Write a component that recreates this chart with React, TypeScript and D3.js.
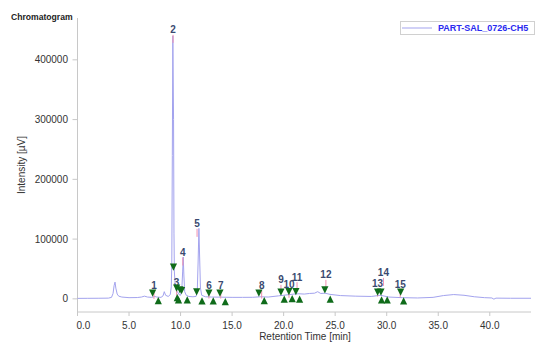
import React from "react";
import * as d3 from "d3";

// Chromatogram trace: [retention time (min), intensity (µV)]
const traceTime = [0, 1, 2, 3, 3.3, 3.45, 3.55, 3.64, 3.72, 3.85, 4.0, 4.3, 5.0, 5.8, 6.2, 6.5, 6.8, 7.2, 7.5, 7.7, 8.1, 8.3, 8.42, 8.55, 8.8, 9.0, 9.1, 9.15, 9.2, 9.25, 9.32, 9.36, 9.4, 9.48, 9.58, 9.7, 9.85, 10.0, 10.12, 10.2, 10.26, 10.32, 10.4, 10.55, 10.8, 11.2, 11.5, 11.62, 11.7, 11.78, 11.85, 11.93, 12.05, 12.4, 13, 14, 15, 16, 17, 17.8, 18.5, 19.5, 20.5, 21.0, 21.5, 22.0, 22.5, 23.0, 23.3, 23.6, 24.0, 24.5, 25.5, 27, 28.5, 29.4, 30.2, 31.5, 33, 34.5, 35.5, 36.5, 37.5, 38.5, 39.5, 40.2, 40.4, 40.6, 42, 44];
const traceValue = [800, 900, 1000, 1200, 2500, 9000, 22000, 28000, 18000, 8000, 4500, 3000, 2000, 2200, 3000, 4500, 3000, 2500, 4000, 3000, 2500, 5000, 12000, 6000, 4000, 7000, 20000, 60000, 240000, 440000, 300000, 110000, 45000, 22000, 14000, 12000, 7000, 6000, 15000, 45000, 70000, 40000, 12000, 6000, 4000, 3500, 4000, 12000, 60000, 118000, 70000, 18000, 6000, 3500, 3000, 2800, 2500, 2500, 2600, 3500, 3000, 5000, 7000, 8000, 8500, 8000, 9000, 9500, 12000, 9000, 9500, 7500, 5500, 4500, 4000, 6000, 3000, 2000, 1500, 2500, 5500, 7200, 6000, 3500, 2000, 1500, -500, 1200, 1000, 1000];

// Peak labels: name, label time (min), label height (µV)
const peakNames = ["1", "2", "3", "4", "5", "6", "7", "8", "9", "10", "11", "12", "13", "14", "15"];
const peakTimes = [7.42, 9.27, 9.62, 10.22, 11.6, 12.75, 13.9, 17.87, 19.74, 20.52, 21.3, 24.1, 29.12, 29.68, 31.31];
const peakLabelValues = [21760, 450200, 27280, 77490, 125500, 22260, 22260, 22260, 31800, 23430, 36320, 40170, 25500, 43500, 23930];

// Peak start markers (▼) and end markers (▲): time (min), intensity (µV)
const startTimes = [7.29, 9.31, 9.62, 9.94, 10.1, 11.56, 12.75, 13.82, 17.6, 19.74, 20.51, 21.19, 24.0, 29.12, 29.44, 31.35];
const startValues = [9540, 53050, 17900, 15060, 13890, 11720, 9540, 9540, 9540, 11210, 12220, 12220, 15060, 11210, 11210, 11210];
const endTimes = [7.84, 9.68, 9.8, 10.65, 12.08, 13.17, 14.34, 18.12, 20.06, 20.83, 21.55, 24.52, 29.5, 30.05, 31.64];
const endValues = [-2850, 2180, -1670, -1670, -3350, -3350, -4520, -2850, -500, 500, -500, -500, -1670, -1670, -3350];

const xTicks = [0, 5, 10, 15, 20, 25, 30, 35, 40];
const yTicks = [0, 100000, 200000, 300000, 400000];

const seriesName = "PART-SAL_0726-CH5";

export default function App() {
  const W = 550, H = 359;
  const x = d3.scaleLinear().domain([0, 44]).range([77.5, 531]);
  const y = d3.scaleLinear().domain([-22000, 470000]).range([312, 18]);
  const pts: [number, number][] = traceTime.map((t, i) => [t, traceValue[i]]);
  const line = d3.line<[number, number]>().x(d => x(d[0])).y(d => y(d[1]));
  const traceColor = "#a3a3ee";
  const axisColor = "#c8c8c8";
  const font = "'Liberation Sans', Arial, sans-serif";
  const tri = 3.6;
  const green = "#0f6b1a";

  return (
    <svg width={W} height={H} style={{ position: "absolute", left: 0, top: 0, background: "#fff" }} fontFamily={font}>
      <rect x={0} y={0} width={W} height={H} fill="#fff" />
      <text x={11} y={20} fontSize={8.6} fontWeight="bold" fill="#222">Chromatogram</text>

      {/* axes */}
      <line x1={77.5} x2={77.5} y1={18} y2={312} stroke={axisColor} />
      <line x1={77.5} x2={531} y1={312} y2={312} stroke={axisColor} />
      {yTicks.map(t => (
        <g key={"y" + t}>
          <line x1={72.5} x2={77.5} y1={y(t)} y2={y(t)} stroke={axisColor} />
          <text x={68} y={y(t)} dy="0.35em" textAnchor="end" fontSize={10} fill="#333">{d3.format("d")(t)}</text>
        </g>
      ))}
      {xTicks.map((t, i) => (
        <g key={"x" + t}>
          <line x1={x(t)} x2={x(t)} y1={312} y2={316} stroke={axisColor} />
          <text x={i === 0 ? x(t) - 1 : x(t)} y={328.5} textAnchor={i === 0 ? "start" : "middle"} fontSize={10} fill="#333">{d3.format(".1f")(t)}</text>
        </g>
      ))}
      <text x={305} y={340} textAnchor="middle" fontSize={10} fill="#333">Retention Time [min]</text>
      <text transform="translate(25,165) rotate(-90)" textAnchor="middle" fontSize={10} fill="#333">Intensity [µV]</text>

      {/* trace */}
      <path d={line(pts) || ""} fill="none" stroke={traceColor} strokeWidth={1} />

      {/* apex ticks and labels */}
      {peakNames.map((n, i) => {
        const px = x(peakTimes[i]);
        const py = y(peakLabelValues[i]);
        return (
          <g key={"p" + n}>
            <line x1={px} x2={px} y1={py + 5} y2={py + 13} stroke="#f08fb0" strokeWidth={1} />
            <text x={px} y={py} dy="0.35em" textAnchor="middle" fontSize={10} fontWeight="bold" fill="#3a4a70">{n}</text>
          </g>
        );
      })}

      {/* start markers */}
      {startTimes.map((t, i) => {
        const cx = x(t), cy = y(startValues[i]);
        return <path key={"s" + i} d={`M${cx - tri},${cy - tri}L${cx + tri},${cy - tri}L${cx},${cy + tri}Z`} fill={green} />;
      })}
      {endTimes.map((t, i) => {
        const cx = x(t), cy = y(endValues[i]);
        return <path key={"e" + i} d={`M${cx - tri},${cy + tri}L${cx + tri},${cy + tri}L${cx},${cy - tri}Z`} fill={green} />;
      })}

      {/* legend */}
      <rect x={400.5} y={21.5} width={134} height={13} fill="#fff" stroke="#d0d0d0" />
      <line x1={402} x2={432} y1={28} y2={28} stroke={traceColor} />
      <text x={438} y={28} dy="0.35em" fontSize={9} fontWeight="bold" fill="#2a2af0">{seriesName}</text>
    </svg>
  );
}
